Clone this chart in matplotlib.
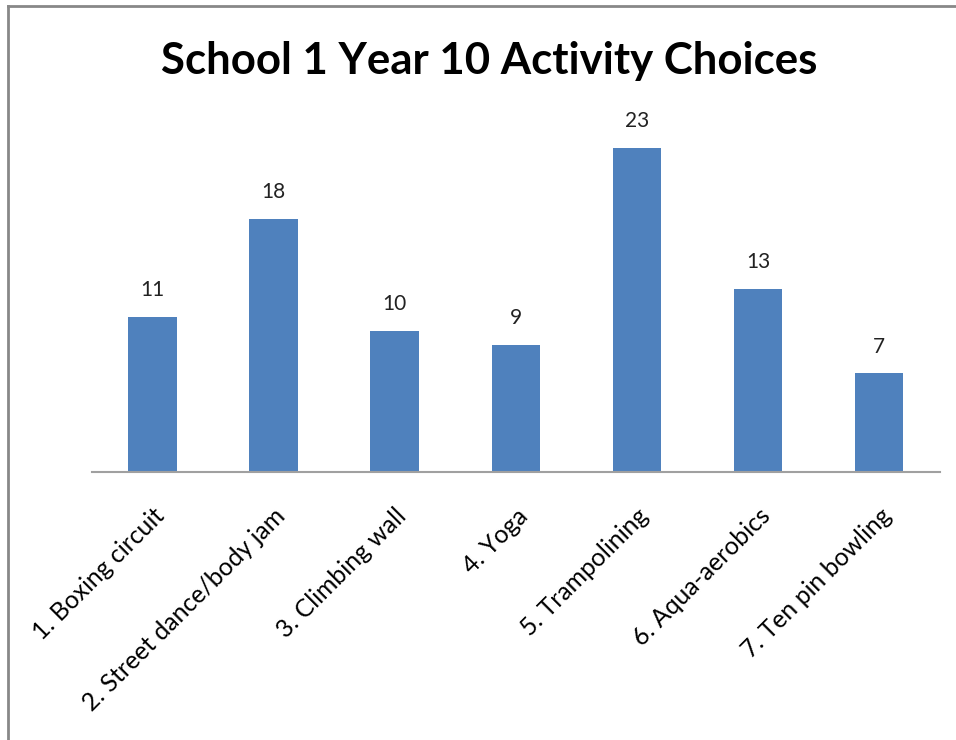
import matplotlib
matplotlib.use("Agg")
import matplotlib.pyplot as plt
from matplotlib.lines import Line2D

activities = ["1. Boxing circuit", "2. Street dance/body jam", "3. Climbing wall",
              "4. Yoga", "5. Trampolining", "6. Aqua-aerobics", "7. Ten pin bowling"]
counts = [11, 18, 10, 9, 23, 13, 7]

plt.rcParams['font.family'] = ['Lato', 'DejaVu Sans']

fig = plt.figure(figsize=(9.56, 7.4), dpi=100)
ax = fig.add_axes([0.096, 0.362, 0.887, 0.476])

x = range(len(activities))
bars = ax.bar(x, counts, width=0.4, color='#4f81bd')
ax.set_xlim(-0.5, len(activities) - 0.5)
ax.set_ylim(0, 25)

for b, v in zip(bars, counts):
    ax.text(b.get_x() + b.get_width() / 2, v + 1.2, str(v), ha='center', va='bottom',
            fontsize=15, color='#222222')

ax.set_xticks(list(x))
ax.set_xticklabels(activities, rotation=45, ha='right', rotation_mode='anchor', fontsize=17.8)
ax.tick_params(axis='x', length=0, pad=23)
ax.set_yticks([])
for s in ['top', 'right', 'left']:
    ax.spines[s].set_visible(False)
ax.spines['bottom'].set_color('#a0a0a0')
ax.spines['bottom'].set_linewidth(1.5)

fig.text(0.512, 0.918, "School 1 Year 10 Activity Choices", ha='center', va='center',
         fontsize=31.5, fontweight='bold')

# frame lines (top and left) as in the screenshot
fig.add_artist(Line2D([0.008, 0.008], [0, 0.992], transform=fig.transFigure, color='#888888', lw=2))
fig.add_artist(Line2D([0.008, 1.0], [0.992, 0.992], transform=fig.transFigure, color='#888888', lw=2))

fig.savefig("out.png", dpi=100)
